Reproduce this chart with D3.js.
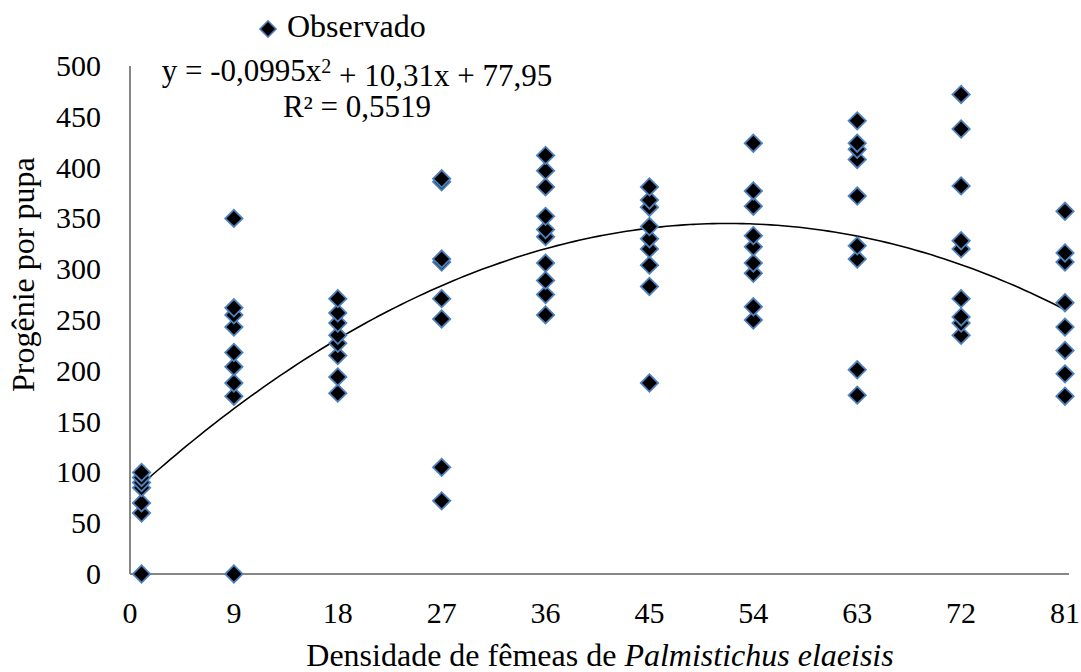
<!DOCTYPE html>
<html>
<head>
<meta charset="utf-8">
<script src="https://cdn.jsdelivr.net/npm/d3@7"></script>
<style>
  body { margin: 0; background: #fff; }
  text { font-family: "Liberation Serif", "Times New Roman", serif; fill: #000; }
</style>
</head>
<body>
<script>
// densidades (x) e progênie observada por pupa (y)
const densities = [1, 9, 18, 27, 36, 45, 54, 63, 72, 81];
const obs1  = [0, 60, 70, 85, 90, 95, 100];
const obs9  = [0, 175, 188, 204, 218, 243, 255, 262, 350];
const obs18 = [178, 194, 215, 227, 235, 247, 257, 271];
const obs27 = [72, 105, 251, 271, 307, 310, 386, 389];
const obs36 = [255, 275, 289, 306, 332, 339, 352, 381, 397, 412];
const obs45 = [188, 283, 304, 320, 330, 342, 361, 368, 381];
const obs54 = [250, 263, 296, 306, 322, 333, 362, 377, 424];
const obs63 = [176, 201, 310, 323, 372, 408, 418, 424, 446];
const obs72 = [235, 247, 253, 271, 320, 328, 382, 438, 472];
const obs81 = [175, 197, 220, 243, 267, 307, 316, 357];
const xTicks = [0, 9, 18, 27, 36, 45, 54, 63, 72, 81];
const yTicks = [0, 50, 100, 150, 200, 250, 300, 350, 400, 450, 500];
// coeficientes da regressão quadrática
const coef = { a: -0.0995, b: 10.31, c: 77.95 };

const obsByDensity = [obs1, obs9, obs18, obs27, obs36, obs45, obs54, obs63, obs72, obs81];
const points = [];
densities.forEach((d, i) => obsByDensity[i].forEach(v => points.push({ x: d, y: v })));

const W = 1081, H = 672;
const svg = d3.select("body").append("svg").attr("width", W).attr("height", H);

const x = d3.scaleLinear().domain([0, 81]).range([130, 1065]);
const y = d3.scaleLinear().domain([0, 500]).range([574, 66]);

// eixos
svg.append("line").attr("x1", x(0)).attr("x2", x(0)).attr("y1", y(500)).attr("y2", y(0))
  .attr("stroke", "#868686").attr("stroke-width", 2);
svg.append("line").attr("x1", x(0)).attr("x2", x(81) + 4).attr("y1", y(0)).attr("y2", y(0))
  .attr("stroke", "#868686").attr("stroke-width", 2);

svg.selectAll(".ytick").data(yTicks).enter().append("text")
  .attr("class", "ytick")
  .attr("x", 101).attr("y", d => y(d) + 10)
  .attr("text-anchor", "end").style("font-size", "30px")
  .text(d => d);

svg.selectAll(".xtick").data(xTicks).enter().append("text")
  .attr("class", "xtick")
  .attr("x", d => x(d)).attr("y", 623)
  .attr("text-anchor", "middle").style("font-size", "30px")
  .text(d => d);

// títulos
const xt = svg.append("text").attr("x", 600).attr("y", 666)
  .attr("text-anchor", "middle").style("font-size", "32px");
xt.append("tspan").text("Densidade de fêmeas de ");
xt.append("tspan").style("font-style", "italic").text("Palmistichus elaeisis");

svg.append("text")
  .attr("transform", "translate(34,392) rotate(-90)")
  .attr("text-anchor", "start").style("font-size", "32px")
  .text("Progênie por pupa");

// curva de tendência
const curve = d3.range(1, 81.01, 0.5).map(d => ({ x: d, y: coef.a * d * d + coef.b * d + coef.c }));
svg.append("path").datum(curve)
  .attr("fill", "none").attr("stroke", "#000").attr("stroke-width", 1.6)
  .attr("d", d3.line().x(d => x(d.x)).y(d => y(d.y)).curve(d3.curveMonotoneX));

// pontos observados
const diamond = d3.symbol().type(d3.symbolSquare).size(150);
svg.selectAll(".pt").data(points).enter().append("path")
  .attr("class", "pt")
  .attr("d", diamond)
  .attr("transform", d => `translate(${x(d.x)},${y(d.y)}) rotate(45)`)
  .attr("fill", "#000").attr("stroke", "#4F81BD").attr("stroke-width", 1.8);

// legenda
svg.append("path").attr("d", d3.symbol().type(d3.symbolSquare).size(130))
  .attr("transform", "translate(268,29) rotate(45)")
  .attr("fill", "#000").attr("stroke", "#4F81BD").attr("stroke-width", 1.6);
svg.append("text").attr("x", 287).attr("y", 37)
  .style("font-size", "32px").text("Observado");

// equação
const eq = svg.append("text").attr("x", 357).attr("y", 81)
  .attr("text-anchor", "middle").style("font-size", "31px");
eq.append("tspan").text("y = -0,0995x");
eq.append("tspan").attr("dy", "-0.42em").style("font-size", "20px").text("2");
eq.append("tspan").attr("dy", "0.42em").text(" + 10,31x + 77,95");
svg.append("text").attr("x", 357).attr("y", 117)
  .attr("text-anchor", "middle").style("font-size", "31px").text("R² = 0,5519");
</script>
</body>
</html>
